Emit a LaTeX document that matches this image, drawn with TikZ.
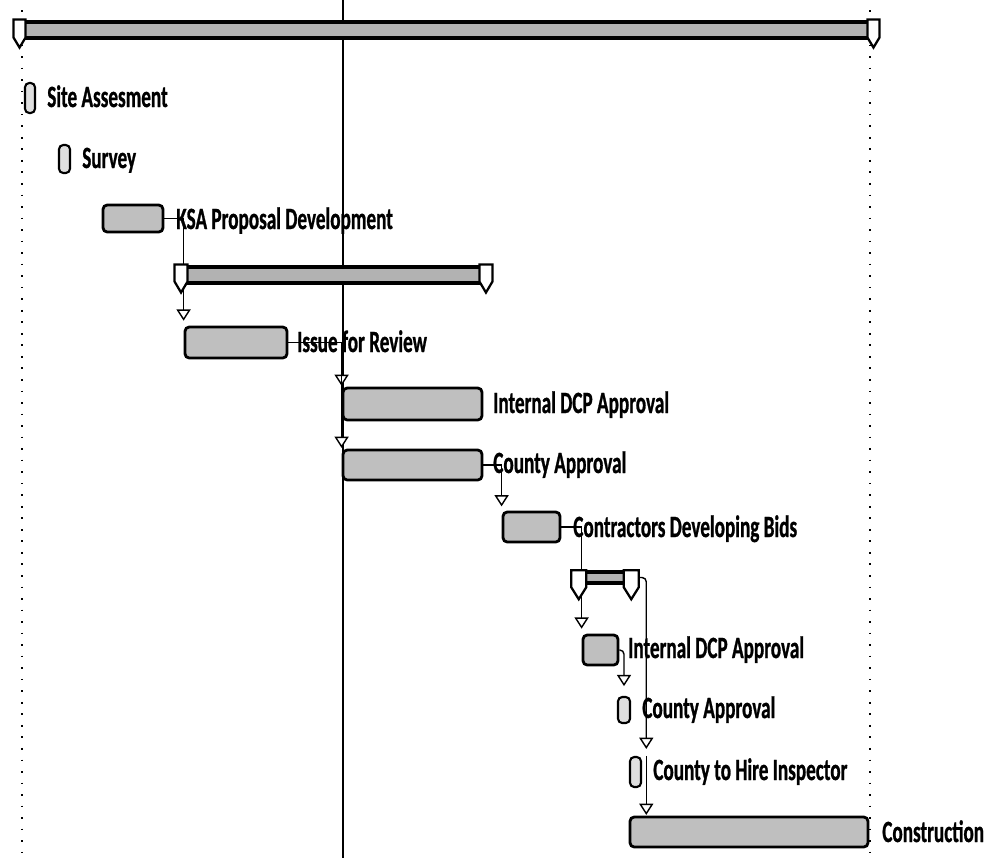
\documentclass[tikz,border=0pt]{standalone}
\usepackage{fontspec}
\newfontfamily\ganttfont[FakeStretch=0.62, FakeBold=0.8]{Carlito}
\usetikzlibrary{positioning,fit,backgrounds,arrows.meta}

\tikzset{
  task/.style={draw=black, line width=2pt, fill=gray!50, rounded corners=3pt, inner sep=0pt},
  milestone/.style={draw=black, line width=1.5pt, fill=gray!25, rounded corners=3pt, inner sep=0pt},
  summary/.style={draw=black, line width=3.5pt, fill=gray!60, inner sep=0pt},
  endcap/.style={draw=black, line width=1.6pt, fill=white},
  lbl/.style={anchor=base west, inner sep=0pt, font=\ganttfont\bfseries\fontsize{22}{24}\selectfont},
  link/.style={draw=black, line width=1pt, -{Triangle[fill=white, length=8pt, width=10pt]}},
  guide/.style={line width=1.3pt, dash pattern=on 1.2pt off 7pt},
}

\begin{document}
\begin{tikzpicture}[x=0.025cm, y=-0.025cm]
\useasboundingbox (0,0) rectangle (1005,858);

% bars
\node[summary, fit={(16,22) (877,38)}] (plan) {};
\node[milestone, fit={(25,83) (35,113)}] (site) {};
\node[milestone, fit={(59,145) (70,173)}] (survey) {};
\node[task, fit={(103,205) (163,232)}] (ksa) {};
\node[summary, fit={(177,267) (490,283)}] (sum2) {};
\node[task, fit={(185,327) (287,358)}] (iss) {};
\node[task, fit={(343,388) (482,420)}] (idcp) {};
\node[task, fit={(343,450) (482,480)}] (cty) {};
\node[task, fit={(503,512) (560,542)}] (bids) {};
\node[summary, line width=2.5pt, fit={(573,572) (637,583)}] (sum3) {};
\node[task, fit={(583,635) (618,665)}] (idcp2) {};
\node[milestone, fit={(618,697) (630,723)}] (ca2) {};
\node[milestone, fit={(630,757) (641,787)}] (hire) {};
\node[task, fit={(630,817) (868,847)}] (cons) {};

% end caps of the summary bars
\foreach \sb/\w/\h/\p in {plan/12/18/10, sum2/13/17/11, sum3/15/17/12} {
  \filldraw[endcap] (\sb.north west) -- ++(\w,0) -- ++(0,\h) -- ++(-\w/2,\p) -- ++(-\w/2,-\p) -- cycle;
  \filldraw[endcap] (\sb.north east) -- ++(-\w,0) -- ++(0,\h) -- ++(\w/2,\p) -- ++(\w/2,-\p) -- cycle;
}

% labels
\node[lbl] (siteT) at (47,107) {Site Assesment};
\node[lbl] (surveyT) at (82,168) {Survey};
\node[lbl] (ksaT) at (176,229) {KSA Proposal Development};
\node[lbl] (issT) at (297,352) {Issue for Review};
\node[lbl] (idcpT) at (493,413) {Internal DCP Approval};
\node[lbl] (ctyT) at (493,473) {County Approval};
\node[lbl] (bidsT) at (573,537) {Contractors Developing Bids};
\node[lbl] (idcp2T) at (628,658) {Internal DCP Approval};
\node[lbl] (ca2T) at (642,718) {County Approval};
\node[lbl] (hireT) at (653,780) {County to Hire Inspector};
\node[lbl] (consT) at (882,842) {Construction};

\coordinate (hireIn) at ([xshift=3pt]hire.north east);

\begin{scope}[on background layer]
% timeline guides
\draw[guide] (22,10) -- (22,858);
\draw[guide] (870,10) -- (870,858);
\draw[line width=0.9pt] (343,0) -- (343,858);

% links
\draw[link, shorten >=3.5pt] (ksa.east) -| (iss.north west);
\draw[link, shorten >=0.5pt] (iss.east) -| (idcp.north west);
\draw[link, shorten >=0.5pt] (iss.east) -| (cty.north west);
\draw[link, shorten >=3pt] (cty.east) -| (bids.north west);
\draw[link, shorten >=3.5pt] (bids.east) -| (idcp2.north west);
\draw[link, rounded corners=3pt, shorten >=7pt] (idcp2.east) -| (ca2.north);
\draw[link, rounded corners=3pt, shorten >=5pt] (sum3.east) -| (hireIn);
\draw[link, shorten >=0.5pt] (hireIn) -- (hireIn |- cons.north);
\end{scope}

\end{tikzpicture}
\end{document}
